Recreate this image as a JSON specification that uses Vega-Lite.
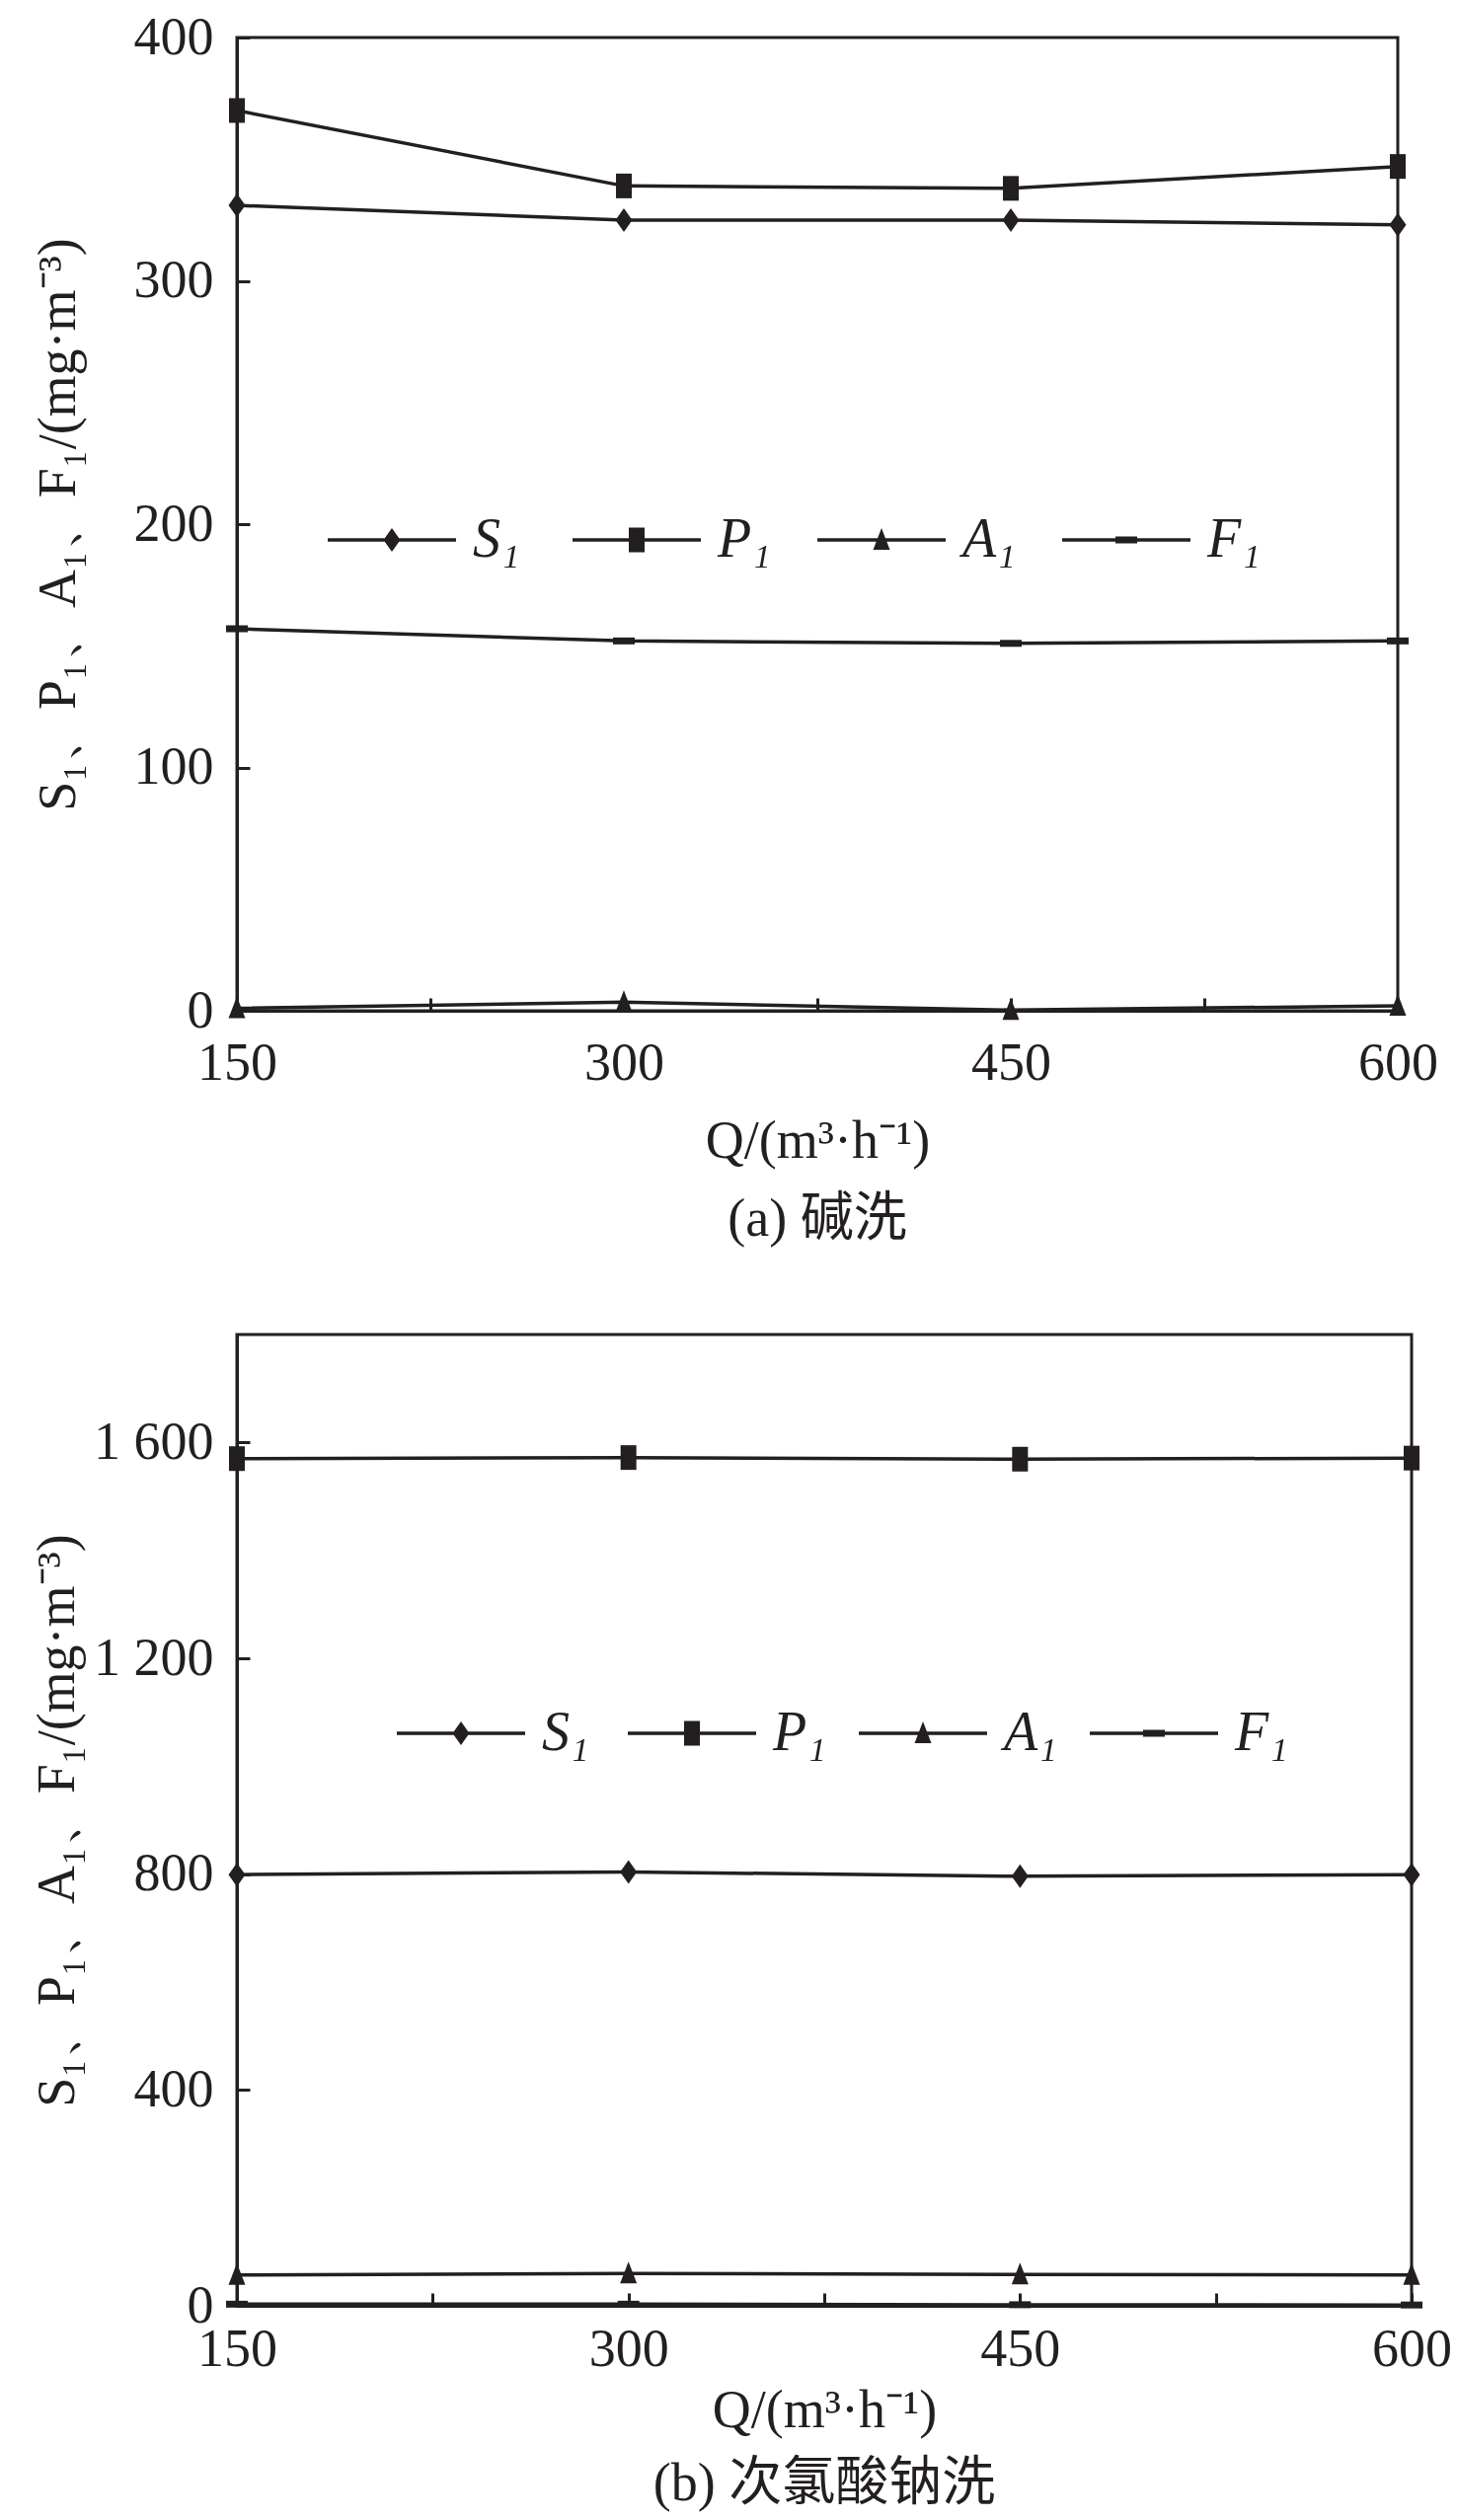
{
  "$schema": "https://vega.github.io/schema/vega-lite/v6.json",
  "padding": {"left": 30, "top": 9, "right": 20, "bottom": 10},
  "background": "white",
  "spacing": 85,
  "datasets": {
    "a": [
      {"Q": 150, "s": "S₁", "v": 331},
      {"Q": 300, "s": "S₁", "v": 325},
      {"Q": 450, "s": "S₁", "v": 325},
      {"Q": 600, "s": "S₁", "v": 323},
      {"Q": 150, "s": "P₁", "v": 370},
      {"Q": 300, "s": "P₁", "v": 339},
      {"Q": 450, "s": "P₁", "v": 338},
      {"Q": 600, "s": "P₁", "v": 347},
      {"Q": 150, "s": "A₁", "v": 1},
      {"Q": 300, "s": "A₁", "v": 3.5},
      {"Q": 450, "s": "A₁", "v": 0.3},
      {"Q": 600, "s": "A₁", "v": 2},
      {"Q": 150, "s": "F₁", "v": 157},
      {"Q": 300, "s": "F₁", "v": 152},
      {"Q": 450, "s": "F₁", "v": 151},
      {"Q": 600, "s": "F₁", "v": 152}
    ],
    "b": [
      {"Q": 150, "s": "S₁", "v": 799},
      {"Q": 300, "s": "S₁", "v": 804},
      {"Q": 450, "s": "S₁", "v": 796},
      {"Q": 600, "s": "S₁", "v": 799},
      {"Q": 150, "s": "P₁", "v": 1570},
      {"Q": 300, "s": "P₁", "v": 1572},
      {"Q": 450, "s": "P₁", "v": 1569},
      {"Q": 600, "s": "P₁", "v": 1571},
      {"Q": 150, "s": "A₁", "v": 57},
      {"Q": 300, "s": "A₁", "v": 60},
      {"Q": 450, "s": "A₁", "v": 58},
      {"Q": 600, "s": "A₁", "v": 57},
      {"Q": 150, "s": "F₁", "v": 3},
      {"Q": 300, "s": "F₁", "v": 3},
      {"Q": 450, "s": "F₁", "v": 2},
      {"Q": 600, "s": "F₁", "v": 1.5}
    ]
  },
  "vconcat": [
    {
      "width": 1176,
      "height": 986,
      "data": {"name": "a"},
      "title": {"text": "(a) 碱洗", "orient": "bottom", "offset": 26},
      "encoding": {
        "x": {
          "field": "Q",
          "type": "quantitative",
          "scale": {"domain": [150, 600], "nice": false, "zero": false},
          "axis": {
            "values": [150, 225, 300, 375, 450, 525, 600],
            "labelExpr": "datum.value % 150 === 0 ? datum.label : ''",
            "labelPadding": 39,
            "titlePadding": 25,
            "title": "Q/(m³·h⁻¹)"
          }
        },
        "y": {
          "field": "v",
          "type": "quantitative",
          "scale": {"domain": [0, 400], "nice": false},
          "axis": {"values": [0, 100, 200, 300, 400], "titlePadding": 49, "title": "S₁、P₁、A₁、F₁/(mg·m⁻³)"}
        }
      },
      "layer": [
        {
          "mark": {"type": "line", "color": "#231f20", "strokeWidth": 3.5},
          "encoding": {"detail": {"field": "s"}}
        },
        {
          "mark": {"type": "point", "filled": true, "size": 400, "color": "#231f20", "opacity": 1},
          "encoding": {
            "shape": {
              "field": "s",
              "scale": {
                "domain": ["S₁", "P₁", "A₁", "F₁"],
                "range": ["M0,-1.2L0.85,0L0,1.2L-0.85,0Z", "M-0.8,-1.25H0.8V1.25H-0.8Z", "M0,-1.2L0.85,1H-0.85Z", "M-1.1,-0.35H1.1V0.35H-1.1Z"]
              },
              "legend": null
            }
          }
        },
        {
          "mark": {"type": "point", "filled": true, "size": 400, "color": "#231f20", "opacity": 0},
          "encoding": {
            "shape": {
              "field": "s",
              "scale": {
                "domain": ["S₁", "P₁", "A₁", "F₁"],
                "range": [
                  "M-6.5,-0.175H6.5V0.175H-6.5ZM0,-1.2L0.85,0L0,1.2L-0.85,0Z",
                  "M-6.5,-0.175H6.5V0.175H-6.5ZM-0.8,-1.25H0.8V1.25H-0.8Z",
                  "M-6.5,-0.175H6.5V0.175H-6.5ZM0,-1.2L0.85,1H-0.85Z",
                  "M-6.5,-0.175H6.5V0.175H-6.5ZM-1.1,-0.35H1.1V0.35H-1.1Z"
                ]
              },
              "legend": {
                "title": null,
                "orient": "none",
                "legendX": 129,
                "legendY": 481,
                "direction": "horizontal",
                "labelFont": "Liberation Serif",
                "labelFontSize": 56,
                "labelFontStyle": "italic",
                "labelColor": "#231f20",
                "labelOffset": 54,
                "labelLimit": 200,
                "columnPadding": 47,
                "gridAlign": "all",
                "symbolSize": 400,
                "symbolOpacity": 1,
                "symbolFillColor": "#231f20",
                "symbolStrokeWidth": 0,
                "padding": 0
              }
            }
          }
        }
      ],
      "resolve": {"scale": {"shape": "independent"}}
    },
    {
      "width": 1190,
      "height": 984,
      "data": {"name": "b"},
      "title": {"text": "(b) 次氯酸钠洗", "orient": "bottom", "offset": 21},
      "encoding": {
        "x": {
          "field": "Q",
          "type": "quantitative",
          "scale": {"domain": [150, 600], "nice": false, "zero": false},
          "axis": {
            "values": [150, 225, 300, 375, 450, 525, 600],
            "labelExpr": "datum.value % 150 === 0 ? datum.label : ''",
            "labelPadding": 30,
            "titlePadding": 8,
            "title": "Q/(m³·h⁻¹)"
          }
        },
        "y": {
          "field": "v",
          "type": "quantitative",
          "scale": {"domain": [0, 1800], "nice": false},
          "axis": {
            "values": [0, 400, 800, 1200, 1600],
            "labelExpr": "replace(format(datum.value, ','), ',', ' ')",
            "titlePadding": 9,
            "title": "S₁、P₁、A₁、F₁/(mg·m⁻³)"
          }
        }
      },
      "layer": [
        {
          "mark": {"type": "line", "color": "#231f20", "strokeWidth": 3.5},
          "encoding": {"detail": {"field": "s"}}
        },
        {
          "mark": {"type": "point", "filled": true, "size": 400, "color": "#231f20", "opacity": 1},
          "encoding": {
            "shape": {
              "field": "s",
              "scale": {
                "domain": ["S₁", "P₁", "A₁", "F₁"],
                "range": ["M0,-1.2L0.85,0L0,1.2L-0.85,0Z", "M-0.8,-1.25H0.8V1.25H-0.8Z", "M0,-1.2L0.85,1H-0.85Z", "M-1.1,-0.35H1.1V0.35H-1.1Z"]
              },
              "legend": null
            }
          }
        },
        {
          "mark": {"type": "point", "filled": true, "size": 400, "color": "#231f20", "opacity": 0},
          "encoding": {
            "shape": {
              "field": "s",
              "scale": {
                "domain": ["S₁", "P₁", "A₁", "F₁"],
                "range": [
                  "M-6.5,-0.175H6.5V0.175H-6.5ZM0,-1.2L0.85,0L0,1.2L-0.85,0Z",
                  "M-6.5,-0.175H6.5V0.175H-6.5ZM-0.8,-1.25H0.8V1.25H-0.8Z",
                  "M-6.5,-0.175H6.5V0.175H-6.5ZM0,-1.2L0.85,1H-0.85Z",
                  "M-6.5,-0.175H6.5V0.175H-6.5ZM-1.1,-0.35H1.1V0.35H-1.1Z"
                ]
              },
              "legend": {
                "title": null,
                "orient": "none",
                "legendX": 199,
                "legendY": 376,
                "direction": "horizontal",
                "labelFont": "Liberation Serif",
                "labelFontSize": 56,
                "labelFontStyle": "italic",
                "labelColor": "#231f20",
                "labelOffset": 54,
                "labelLimit": 200,
                "columnPadding": 33,
                "gridAlign": "all",
                "symbolSize": 400,
                "symbolOpacity": 1,
                "symbolFillColor": "#231f20",
                "symbolStrokeWidth": 0,
                "padding": 0
              }
            }
          }
        }
      ],
      "resolve": {"scale": {"shape": "independent"}}
    }
  ],
  "config": {
    "view": {"stroke": "#231f20", "strokeWidth": 3},
    "axis": {
      "grid": false,
      "domainColor": "#231f20",
      "domainWidth": 3,
      "tickColor": "#231f20",
      "tickWidth": 3,
      "tickSize": -13,
      "labelFont": "Liberation Serif",
      "labelFontSize": 54,
      "labelColor": "#231f20",
      "labelFlush": false,
      "labelOverlap": false,
      "titleFont": "Liberation Serif",
      "titleFontSize": 54,
      "titleFontWeight": "normal",
      "titleColor": "#231f20"
    },
    "axisY": {"labelPadding": 37},
    "title": {
      "font": "Liberation Serif, Noto Sans CJK SC",
      "fontSize": 54,
      "fontWeight": "normal",
      "color": "#231f20"
    }
  }
}
